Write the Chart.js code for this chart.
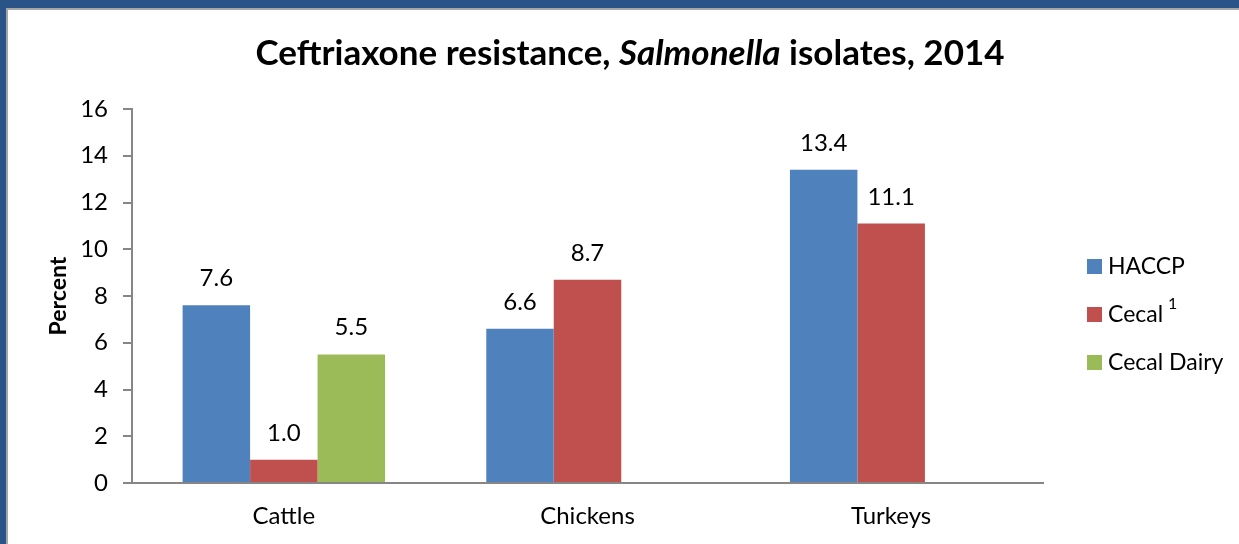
<!DOCTYPE html>
<html>
<head>
<meta charset="utf-8">
<script src="https://cdn.jsdelivr.net/npm/chart.js@4.4.1/dist/chart.umd.min.js"></script>
<style>
  html, body { margin: 0; padding: 0; background: #ffffff; }
  #wrap { position: relative; width: 1239px; height: 544px; overflow: hidden; }
  canvas { position: absolute; left: 0; top: 0; }
</style>
</head>
<body>
<div id="wrap"><canvas id="c" width="1239" height="544"></canvas></div>
<script>
const categories = ["Cattle", "Chickens", "Turkeys"];
const haccp = [7.6, 6.6, 13.4];
const cecal = [1.0, 8.7, 11.1];
const cecalDairy = [5.5, null, null];
const seriesNames = ["HACCP", "Cecal", "Cecal Dairy"];
const seriesSup = ["", "1", ""];
const seriesColors = ["#4F81BD", "#C0504D", "#9BBB59"];
const yTicks = [0, 2, 4, 6, 8, 10, 12, 14, 16];

const FONT = "Lato, 'Open Sans', sans-serif";

const framePlugin = {
  id: 'frame',
  beforeDraw(chart) {
    const ctx = chart.ctx;
    ctx.save();
    ctx.fillStyle = '#ffffff';
    ctx.fillRect(0, 0, chart.width, chart.height);
    ctx.fillStyle = '#2A5488';
    ctx.fillRect(0, 0, chart.width, 8);
    ctx.fillRect(0, 0, 6, chart.height);
    ctx.fillStyle = '#A6A6A6';
    ctx.fillRect(6, 8, chart.width - 6, 2);
    ctx.fillRect(6, 8, 2, chart.height - 8);
    ctx.restore();
  }
};

const titlePlugin = {
  id: 'richTitle',
  afterDraw(chart) {
    const ctx = chart.ctx;
    const size = 35;
    const parts = [
      { t: "Ceftriaxone resistance, ", f: "bold " + size + "px " + FONT },
      { t: "Salmonella", f: "italic bold " + size + "px " + FONT },
      { t: " isolates, 2014", f: "bold " + size + "px " + FONT }
    ];
    ctx.save();
    let total = 0;
    parts.forEach(p => { ctx.font = p.f; p.w = ctx.measureText(p.t).width; total += p.w; });
    let x = 630 - total / 2;
    ctx.fillStyle = '#000000';
    ctx.textBaseline = 'alphabetic';
    ctx.textAlign = 'left';
    parts.forEach(p => { ctx.font = p.f; ctx.fillText(p.t, x, 65); x += p.w; });
    ctx.restore();
  }
};

const dataLabelPlugin = {
  id: 'dataLabels',
  afterDatasetsDraw(chart) {
    const ctx = chart.ctx;
    ctx.save();
    ctx.font = "24px " + FONT;
    ctx.fillStyle = '#000000';
    ctx.textAlign = 'center';
    ctx.textBaseline = 'alphabetic';
    chart.data.datasets.forEach((ds, i) => {
      const meta = chart.getDatasetMeta(i);
      meta.data.forEach((bar, j) => {
        const v = ds.data[j];
        if (v === null || v === undefined) return;
        ctx.fillText(v.toFixed(1), bar.x, bar.y - 19);
      });
    });
    ctx.restore();
  }
};

const legendPlugin = {
  id: 'customLegend',
  afterDraw(chart) {
    const ctx = chart.ctx;
    ctx.save();
    seriesNames.forEach((name, i) => {
      const cy = 267 + i * 48;
      ctx.fillStyle = seriesColors[i];
      ctx.fillRect(1087, cy - 8, 15, 15);
      ctx.fillStyle = '#000000';
      ctx.font = "23px " + FONT;
      ctx.textAlign = 'left';
      ctx.textBaseline = 'middle';
      ctx.fillText(name, 1108, cy);
      if (seriesSup[i]) {
        const w = ctx.measureText(name).width;
        ctx.font = "16px " + FONT;
        ctx.fillText(seriesSup[i], 1108 + w + 5, cy - 11);
      }
    });
    ctx.restore();
  }
};

new Chart(document.getElementById('c'), {
  type: 'bar',
  data: {
    labels: categories,
    datasets: [
      { label: seriesNames[0], data: haccp, backgroundColor: seriesColors[0] },
      { label: seriesNames[1], data: cecal, backgroundColor: seriesColors[1] },
      { label: seriesNames[2], data: cecalDairy, backgroundColor: seriesColors[2] }
    ]
  },
  options: {
    responsive: false,
    animation: false,
    events: [],
    layout: { padding: { left: 0, top: 109, right: 196, bottom: 0 } },
    datasets: { bar: { categoryPercentage: 0.6667, barPercentage: 1.0 } },
    plugins: {
      legend: { display: false },
      title: { display: false },
      tooltip: { enabled: false }
    },
    scales: {
      x: {
        grid: { display: false, drawTicks: false },
        border: { display: true, color: '#868686', width: 2 },
        ticks: { font: { family: FONT, size: 24 }, color: '#000000', padding: 19 },
        afterFit(scale) { scale.height = 61; }
      },
      y: {
        min: 0, max: 16,
        afterBuildTicks(scale) { scale.ticks = yTicks.map(v => ({ value: v })); },
        grid: { display: true, drawOnChartArea: false, drawTicks: true, tickLength: 9, color: '#868686', lineWidth: 2 },
        border: { display: true, color: '#868686', width: 2 },
        ticks: { font: { family: FONT, size: 24 }, color: '#000000', padding: 15 },
        title: { display: true, text: 'Percent', font: { family: FONT, size: 23, weight: 'bold' }, color: '#000000', padding: { top: 45, bottom: 0 } },
        afterFit(scale) { scale.width = 132; }
      }
    }
  },
  plugins: [framePlugin, titlePlugin, dataLabelPlugin, legendPlugin]
});
</script>
</body>
</html>
